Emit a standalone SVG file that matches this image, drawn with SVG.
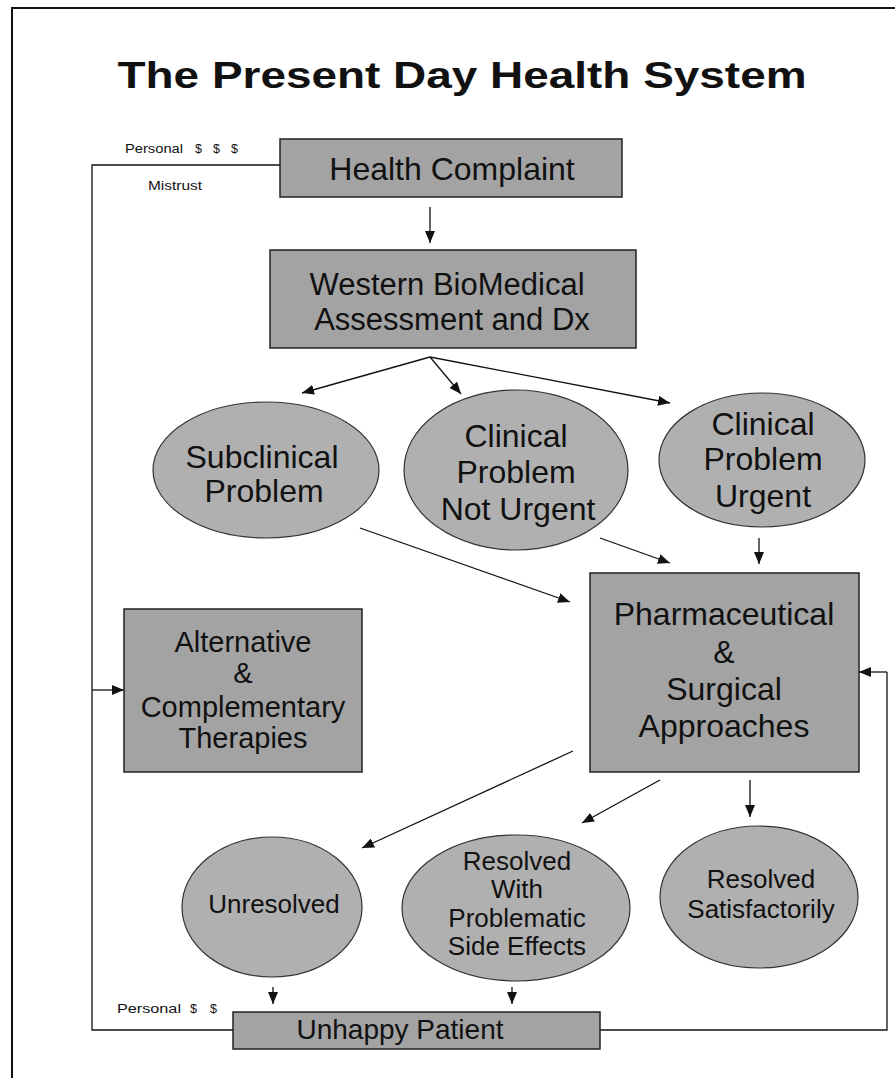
<svg xmlns="http://www.w3.org/2000/svg" width="895" height="1081" viewBox="0 0 895 1081">
<style>
text{font-family:"Liberation Sans",Arial,sans-serif;fill:#111;text-anchor:middle}
.box{fill:#a3a3a3;stroke:#222;stroke-width:1.5}
.ov{fill:#b0b0b0;stroke:#333;stroke-width:1.2}
.t32{font-size:32px}
.t26{font-size:26px}
.sm{font-size:12.5px;text-anchor:start}
.ln{fill:none;stroke:#111;stroke-width:1.3}
.ar{fill:none;stroke:#111;stroke-width:1.3;marker-end:url(#ah)}
</style>
<defs>
<marker id="ah" viewBox="0 0 12 10" refX="12" refY="5" markerWidth="12" markerHeight="10" markerUnits="userSpaceOnUse" orient="auto">
<path d="M0,0 L12,5 L0,10 z" fill="#111"/>
</marker>
</defs>
<rect width="895" height="1081" fill="#fff"/>
<g id="frame">
<path d="M12,1078 L12,8 L895,8" fill="none" stroke="#111" stroke-width="2"/>
</g>
<g id="title">
<text x="462" y="88" font-size="37" font-weight="bold" textLength="689" lengthAdjust="spacingAndGlyphs">The Present Day Health System</text>
</g>
<g id="connectors">
<path class="ln" d="M280,165 L92,165 L92,1030 L233,1030"/>
<path class="ar" d="M92,690 L124,690"/>
<path class="ln" d="M600,1030 L887,1030 L887,672"/>
<path class="ar" d="M887,672 L859,672"/>
<path class="ar" d="M430,207 L430,243"/>
<path class="ar" d="M430,357 L302,393"/>
<path class="ar" d="M430,357 L461,394"/>
<path class="ar" d="M430,357 L670,403"/>
<path class="ar" d="M360,528 L570,602"/>
<path class="ar" d="M600,538 L670,563"/>
<path class="ar" d="M759,538 L759,564"/>
<path class="ar" d="M573,751 L362,848"/>
<path class="ar" d="M660,780 L582,823"/>
<path class="ar" d="M750,780 L750,817"/>
<path class="ar" d="M273,987 L273,1004"/>
<path class="ar" d="M512,987 L512,1004"/>
</g>
<g id="labels">
<text class="sm" x="125" y="153" textLength="58" lengthAdjust="spacingAndGlyphs">Personal</text>
<text class="sm" x="195" y="153" textLength="43" lengthAdjust="spacing">$ $ $</text>
<text class="sm" x="148" y="190" textLength="54" lengthAdjust="spacingAndGlyphs">Mistrust</text>
<text class="sm" x="117" y="1013" textLength="64" lengthAdjust="spacingAndGlyphs">Personal</text>
<text class="sm" x="190" y="1013" textLength="27" lengthAdjust="spacing">$ $</text>
</g>
<g id="health-complaint">
<rect class="box" x="280" y="139" width="342" height="58"/>
<text class="t32" x="452" y="180">Health Complaint</text>
</g>
<g id="western">
<rect class="box" x="270" y="250" width="366" height="98"/>
<text x="447" y="295" font-size="31">Western BioMedical</text>
<text x="452" y="330" font-size="31">Assessment and Dx</text>
</g>
<g id="subclinical">
<ellipse class="ov" cx="266" cy="470" rx="113" ry="68"/>
<text class="t32" x="262" y="468">Subclinical</text>
<text class="t32" x="264" y="502">Problem</text>
</g>
<g id="clinical-not-urgent">
<ellipse class="ov" cx="516" cy="470" rx="112" ry="80"/>
<text class="t32" x="516" y="447">Clinical</text>
<text class="t32" x="516" y="483">Problem</text>
<text class="t32" x="518" y="520">Not Urgent</text>
</g>
<g id="clinical-urgent">
<ellipse class="ov" cx="762" cy="460" rx="103" ry="67"/>
<text class="t32" x="763" y="435">Clinical</text>
<text class="t32" x="763" y="470">Problem</text>
<text class="t32" x="763" y="507">Urgent</text>
</g>
<g id="pharmaceutical">
<rect class="box" x="590" y="573" width="269" height="199"/>
<text class="t32" x="724" y="625" font-size="33">Pharmaceutical</text>
<text class="t32" x="724" y="663" font-size="33">&amp;</text>
<text class="t32" x="724" y="700" font-size="33">Surgical</text>
<text class="t32" x="724" y="737" font-size="33">Approaches</text>
</g>
<g id="alternative">
<rect class="box" x="124" y="609" width="238" height="163"/>
<text x="243" y="652" font-size="29">Alternative</text>
<text x="243" y="683" font-size="29">&amp;</text>
<text x="243" y="717" font-size="29">Complementary</text>
<text x="243" y="748" font-size="29">Therapies</text>
</g>
<g id="unresolved">
<ellipse class="ov" cx="272" cy="907" rx="90" ry="70"/>
<text class="t26" x="274" y="913">Unresolved</text>
</g>
<g id="resolved-side-effects">
<ellipse class="ov" cx="516" cy="908" rx="114" ry="73"/>
<text class="t26" x="517" y="870">Resolved</text>
<text class="t26" x="517" y="898">With</text>
<text class="t26" x="517" y="927">Problematic</text>
<text class="t26" x="517" y="955">Side Effects</text>
</g>
<g id="resolved-satisfactorily">
<ellipse class="ov" cx="759" cy="897" rx="99" ry="71"/>
<text class="t26" x="761" y="888">Resolved</text>
<text class="t26" x="761" y="918">Satisfactorily</text>
</g>
<g id="unhappy-patient">
<rect class="box" x="233" y="1012" width="367" height="37"/>
<text x="400" y="1039" font-size="28">Unhappy Patient</text>
</g>
</svg>
